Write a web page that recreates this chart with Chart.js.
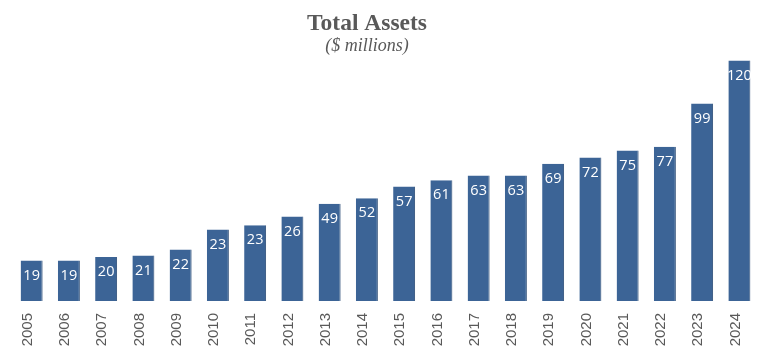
<!DOCTYPE html>
<html>
<head>
<meta charset="utf-8">
<style>
  html, body { margin: 0; padding: 0; background: #ffffff; }
  #wrap { width: 772px; height: 361px; position: relative; }
</style>
<script src="https://cdn.jsdelivr.net/npm/chart.js@4/dist/chart.umd.min.js"></script>
</head>
<body>
<div id="wrap"><canvas id="c" width="772" height="361"></canvas></div>
<script>
const titleText = "Total Assets";
const subtitleText = "($ millions)";
const years = ["2005","2006","2007","2008","2009","2010","2011","2012","2013","2014",
               "2015","2016","2017","2018","2019","2020","2021","2022","2023","2024"];
// bar heights as drawn in the picture
const barHeights = [20.2, 20.2, 22.0, 22.8, 25.8, 35.8, 37.9, 42.2, 48.6, 51.4,
                    57.2, 60.4, 62.8, 62.8, 68.6, 71.8, 75.2, 77.1, 98.8, 120.2];
// value labels printed on the bars
const valueLabels = ["19","19","20","21","22","23","23","26","49","52",
                     "57","61","63","63","69","72","75","77","99","120"];

const titlePlugin = {
  id: 'customTitle',
  afterDraw(chart) {
    const ctx = chart.ctx;
    ctx.save();
    ctx.fillStyle = '#595959';
    ctx.textAlign = 'center';
    ctx.textBaseline = 'alphabetic';
    ctx.font = 'bold 23.5px "Liberation Serif", "Times New Roman", serif';
    ctx.fillText(titleText, 367, 30);
    ctx.font = 'italic 18px "Liberation Serif", "Times New Roman", serif';
    ctx.fillText(subtitleText, 367, 51);
    ctx.restore();
  }
};

const valueLabelPlugin = {
  id: 'valueLabels',
  afterDatasetsDraw(chart) {
    const ctx = chart.ctx;
    const meta = chart.getDatasetMeta(0);
    ctx.save();
    ctx.fillStyle = '#ffffff';
    ctx.textAlign = 'center';
    ctx.textBaseline = 'middle';
    ctx.font = '14.5px "Open Sans", "Liberation Sans", sans-serif';
    meta.data.forEach((bar, i) => {
      ctx.fillText(valueLabels[i], bar.x, bar.y + 15);
    });
    ctx.restore();
  }
};

new Chart(document.getElementById('c'), {
  type: 'bar',
  data: {
    labels: years,
    datasets: [{
      data: barHeights,
      backgroundColor: '#3C6496',
      borderColor: '#2D4D77',
      borderWidth: { top: 0, left: 0, bottom: 0, right: 1 },
      borderSkipped: false,
      categoryPercentage: 1.0,
      barPercentage: 0.59
    }]
  },
  options: {
    responsive: false,
    animation: false,
    devicePixelRatio: 1,
    layout: { padding: { top: 51, left: 13, right: 14, bottom: 0 } },
    plugins: {
      legend: { display: false },
      title: { display: false },
      tooltip: { enabled: false }
    },
    scales: {
      x: {
        grid: { display: false, drawTicks: false },
        border: { display: false },
        ticks: {
          color: '#595959',
          font: { family: '"Liberation Sans", Arial, sans-serif', size: 15 },
          minRotation: 90,
          maxRotation: 90,
          padding: 12,
          labelOffset: -4,
          autoSkip: false
        },
        afterFit(scale) { scale.height = 60; }
      },
      y: {
        display: false,
        min: 0,
        max: 125
      }
    }
  },
  plugins: [titlePlugin, valueLabelPlugin]
});
</script>
</body>
</html>
